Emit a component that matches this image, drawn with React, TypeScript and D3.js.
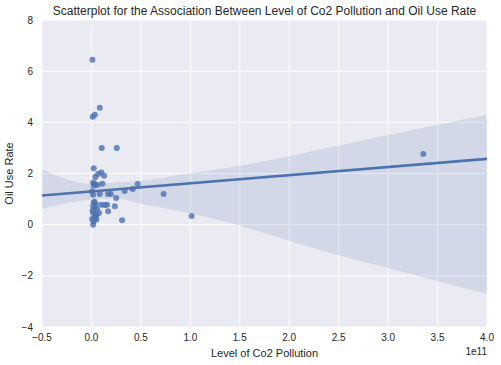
import React, { useRef, useEffect } from "react";
import * as d3 from "d3";

// Co2 pollution (in units of 1e11) and oil use rate
const co2Values = [
    0.01, 0.084, 0.034, 0.013, 0.104, 0.256, 3.356, 0.023, 0.1, 0.067,
    0.128, 0.04, 0.017, 0.034, 0.023, 0.11, 0.007, 0.084, 0.017, 0.168,
    0.25, 0.023, 0.044, 0.017, 0.034, 0.057, 0.1, 0.158, 0.236, 0.168,
    0.017, 0.05, 0.077, 0.034, 0.007, 0.023, 0.05, 0.017, 0.31, 0.468,
    0.417, 0.336, 0.73, 0.195, 1.013, 0.134, 0.06, 0.03, 0.045, 0.012,
];
const oilValues = [
    6.45, 4.57, 4.3, 4.22, 3.0, 3.0, 2.76, 2.21, 2.04, 1.98,
    1.91, 1.86, 1.65, 1.59, 1.52, 1.6, 1.3, 1.2, 1.17, 1.2,
    1.04, 0.87, 0.81, 0.72, 0.65, 0.61, 0.78, 0.78, 0.72, 0.52,
    0.46, 0.39, 0.46, 0.32, 0.22, 0.13, 0.2, 0.0, 0.17, 1.59,
    1.39, 1.32, 1.2, 1.2, 0.34, 0.77, 1.55, 0.9, 0.28, 0.55,
];

// regression fit line and 95% confidence band
const fitX = [-0.5, 4.0];
const fitY = [1.14, 2.57];
const bandX = [-0.5, 0, 0.25, 0.5, 0.9, 1.5, 2.3, 2.93, 4.0];
const bandUpper = [2.18, 1.6, 1.65, 1.72, 1.95, 2.3, 2.93, 3.45, 4.3];
const bandLower = [0.61, 0.98, 1.02, 0.82, 0.52, -0.04, -0.98, -1.63, -2.71];

const xTicks = [-0.5, 0.0, 0.5, 1.0, 1.5, 2.0, 2.5, 3.0, 3.5, 4.0];
const yTicks = [-4, -2, 0, 2, 4, 6, 8];

const App: React.FC = () => {
    const svgRef = useRef<SVGSVGElement>(null);

    useEffect(() => {
        const svgElement = svgRef.current;
        if (!svgElement) return;

        const width = 501;
        const height = 365;
        const margin = { top: 20, right: 14, bottom: 38, left: 42 };
        const blue = "#4C72B0";
        const textColor = "#262626";
        const font = "'Liberation Sans', Arial, sans-serif";

        d3.select(svgElement).selectAll("*").remove();

        const svg = d3
            .select(svgElement)
            .attr("width", width)
            .attr("height", height)
            .attr("viewBox", `0 0 ${width} ${height}`)
            .style("font-family", font);

        const x = d3.scaleLinear().domain([-0.5, 4.0]).range([margin.left, width - margin.right]);
        const y = d3.scaleLinear().domain([-4, 8]).range([height - margin.bottom, margin.top]);

        // background
        svg.append("rect")
            .attr("x", margin.left)
            .attr("y", margin.top)
            .attr("width", x(4.0) - x(-0.5))
            .attr("height", y(-4) - y(8))
            .attr("fill", "#EAEAF2");

        // grid
        const grid = svg.append("g").attr("stroke", "#ffffff").attr("stroke-width", 1);
        grid.selectAll("line.vx")
            .data(xTicks)
            .join("line")
            .attr("x1", (d) => x(d))
            .attr("x2", (d) => x(d))
            .attr("y1", y(8))
            .attr("y2", y(-4));
        grid.selectAll("line.hy")
            .data(yTicks)
            .join("line")
            .attr("x1", x(-0.5))
            .attr("x2", x(4.0))
            .attr("y1", (d) => y(d))
            .attr("y2", (d) => y(d));

        // clip to plot area
        svg.append("clipPath")
            .attr("id", "plot-clip")
            .append("rect")
            .attr("x", margin.left)
            .attr("y", margin.top)
            .attr("width", x(4.0) - x(-0.5))
            .attr("height", y(-4) - y(8));

        const plot = svg.append("g").attr("clip-path", "url(#plot-clip)");

        // confidence band
        const bandData = bandX.map((d, i) => ({ x: d, hi: bandUpper[i], lo: bandLower[i] }));
        const area = d3
            .area<{ x: number; hi: number; lo: number }>()
            .x((d) => x(d.x))
            .y0((d) => y(d.lo))
            .y1((d) => y(d.hi))
            .curve(d3.curveMonotoneX);
        plot.append("path").datum(bandData).attr("d", area).attr("fill", blue).attr("fill-opacity", 0.15);

        // scatter points
        plot.selectAll("circle")
            .data(co2Values.map((d, i) => [d, oilValues[i]]))
            .join("circle")
            .attr("cx", (d) => x(d[0]))
            .attr("cy", (d) => y(d[1]))
            .attr("r", 3)
            .attr("fill", blue)
            .attr("fill-opacity", 0.8);

        // regression line
        const line = d3
            .line<number>()
            .x((d) => x(d))
            .y((d, i) => y(fitY[i]));
        plot.append("path")
            .datum(fitX)
            .attr("d", line)
            .attr("fill", "none")
            .attr("stroke", blue)
            .attr("stroke-width", 2.6);

        const fmtMinus = (s: string) => s.replace("-", "\u2212");

        // x tick labels
        svg.append("g")
            .selectAll("text")
            .data(xTicks)
            .join("text")
            .attr("x", (d) => x(d))
            .attr("y", y(-4) + 14)
            .attr("text-anchor", "middle")
            .attr("font-size", 10)
            .attr("fill", textColor)
            .text((d) => fmtMinus(d.toFixed(1)));

        // y tick labels
        svg.append("g")
            .selectAll("text")
            .data(yTicks)
            .join("text")
            .attr("x", margin.left - 9)
            .attr("y", (d) => y(d) + 3.5)
            .attr("text-anchor", "end")
            .attr("font-size", 10)
            .attr("fill", textColor)
            .text((d) => fmtMinus(String(d)));

        // offset label
        svg.append("text")
            .attr("x", x(4.0))
            .attr("y", y(-4) + 28)
            .attr("text-anchor", "end")
            .attr("font-size", 10)
            .attr("fill", textColor)
            .text("1e11");

        // axis labels
        svg.append("text")
            .attr("x", (x(-0.5) + x(4.0)) / 2)
            .attr("y", y(-4) + 30)
            .attr("text-anchor", "middle")
            .attr("font-size", 11)
            .attr("fill", textColor)
            .text("Level of Co2 Pollution");

        svg.append("text")
            .attr("transform", `translate(13, ${(y(8) + y(-4)) / 2}) rotate(-90)`)
            .attr("text-anchor", "middle")
            .attr("font-size", 11)
            .attr("fill", textColor)
            .text("Oil Use Rate");

        // title
        svg.append("text")
            .attr("x", (x(-0.5) + x(4.0)) / 2)
            .attr("y", 15)
            .attr("text-anchor", "middle")
            .attr("font-size", 12)
            .attr("fill", textColor)
            .text("Scatterplot for the Association Between Level of Co2 Pollution and Oil Use Rate");
    }, []);

    return <svg ref={svgRef} style={{ position: "absolute", left: 0, top: 0 }}></svg>;
};

export default App;
